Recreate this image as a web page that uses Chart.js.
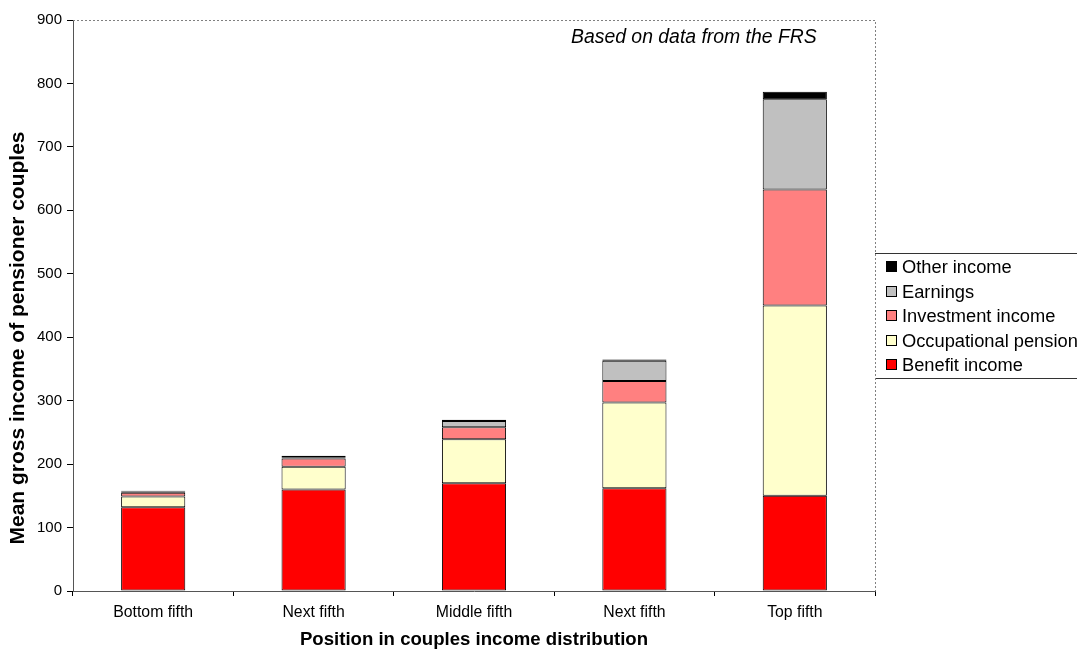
<!DOCTYPE html>
<html>
<head>
<meta charset="utf-8">
<script src="https://cdn.jsdelivr.net/npm/chart.js@4/dist/chart.umd.min.js"></script>
<style>
  body { margin: 0; background: #fff; }
  canvas { display: block; }
</style>
</head>
<body>
<canvas id="incomeChart"></canvas>
<script>
const fifths = ['Bottom fifth', 'Next fifth', 'Middle fifth', 'Next fifth', 'Top fifth'];

// mean gross income by source, stacked bottom to top
const benefitIncome = [132, 160, 170, 162, 150];
const occupationalPension = [17, 36, 69, 135, 300];
const investmentIncome = [6, 13, 19, 34, 183];
const earnings = [2, 2, 10, 32, 142];
const otherIncome = [1, 2, 2, 2, 12];

const FONT = '"Liberation Sans", Arial, sans-serif';

// boxed legend, top series first (left edge sits on the plot frame)
const boxLegend = {
  id: 'boxLegend',
  afterDraw(chart) {
    const { ctx, chartArea: a } = chart;
    const x = Math.round(a.right), y = 253, w = 220, h = 125;
    ctx.save();
    ctx.fillStyle = '#fff';
    ctx.fillRect(x, y, w, h);
    ctx.strokeStyle = '#333';
    ctx.lineWidth = 1;
    ctx.beginPath();
    ctx.moveTo(x, y + 0.5);
    ctx.lineTo(x + w, y + 0.5);
    ctx.moveTo(x, y + h + 0.5);
    ctx.lineTo(x + w, y + h + 0.5);
    ctx.stroke();

    ctx.font = '18.3px ' + FONT;
    ctx.textBaseline = 'middle';
    const items = chart.data.datasets.slice().reverse();
    items.forEach((ds, i) => {
      const cy = Math.round(y + 14 + i * 24.5);
      ctx.fillStyle = ds.backgroundColor;
      ctx.fillRect(886, cy - 6, 11, 11);
      ctx.strokeStyle = '#000';
      ctx.strokeRect(886.5, cy - 5.5, 10, 10);
      ctx.fillStyle = '#000';
      ctx.fillText(ds.label, 902, cy + 1);
    });
    ctx.restore();
  }
};

// dotted frame on the top and right of the plot area, y title and source note
const frameAndNote = {
  id: 'frameAndNote',
  afterDraw(chart) {
    const { ctx, chartArea: a } = chart;
    ctx.save();
    ctx.strokeStyle = '#808080';
    ctx.lineWidth = 1;
    ctx.setLineDash([2, 2]);
    ctx.beginPath();
    ctx.moveTo(a.left, a.top + 0.5);
    ctx.lineTo(a.right + 0.5, a.top + 0.5);
    ctx.lineTo(a.right + 0.5, a.bottom);
    ctx.stroke();
    ctx.setLineDash([]);

    ctx.fillStyle = '#000';
    ctx.font = 'italic 19.4px ' + FONT;
    ctx.textBaseline = 'middle';
    ctx.textAlign = 'left';
    ctx.fillText('Based on data from the FRS', 571, 38);

    ctx.translate(18, 338);
    ctx.rotate(-Math.PI / 2);
    ctx.font = 'bold 21px ' + FONT;
    ctx.textAlign = 'center';
    ctx.fillText('Mean gross income of pensioner couples', 0, 0);
    ctx.restore();
  }
};

const canvas = document.getElementById('incomeChart');
canvas.width = 1077;
canvas.height = 651;

const ctx = canvas.getContext('2d');
new Chart(ctx, {
  type: 'bar',
  data: {
    labels: fifths,
    datasets: [
      { label: 'Benefit income', data: benefitIncome, backgroundColor: '#FF0000' },
      { label: 'Occupational pension', data: occupationalPension, backgroundColor: '#FFFFCC' },
      { label: 'Investment income', data: investmentIncome, backgroundColor: '#FF8080' },
      { label: 'Earnings', data: earnings, backgroundColor: '#C0C0C0' },
      { label: 'Other income', data: otherIncome, backgroundColor: '#000000' }
    ].map(ds => Object.assign(ds, {
      borderColor: '#000',
      borderWidth: 1,
      borderSkipped: false,
      barPercentage: 0.4,
      categoryPercentage: 1
    }))
  },
  options: {
    responsive: false,
    animation: false,
    devicePixelRatio: 1,
    layout: { padding: { left: 0, top: 20, right: 202, bottom: 0 } },
    plugins: {
      legend: { display: false },
      tooltip: { enabled: false }
    },
    scales: {
      x: {
        stacked: true,
        afterFit: scale => { scale.height = 60; },
        grid: {
          offset: true,
          drawOnChartArea: false,
          tickLength: 5,
          color: '#000'
        },
        border: { color: '#555', dash: [3, 2] },
        ticks: { color: '#000', padding: 7, font: { family: FONT, size: 15.8 } },
        title: {
          display: true,
          text: 'Position in couples income distribution',
          color: '#000',
          padding: { top: 0, bottom: 0 },
          font: { family: FONT, size: 18.6, weight: 'bold' }
        }
      },
      y: {
        stacked: true,
        min: 0,
        max: 900,
        afterFit: scale => { scale.width = 73; },
        grid: {
          drawOnChartArea: false,
          tickLength: 6,
          color: '#000'
        },
        border: { color: '#555', dash: [3, 2] },
        ticks: { stepSize: 100, color: '#000', padding: 5, font: { family: FONT, size: 15 } }
      }
    }
  },
  plugins: [boxLegend, frameAndNote]
});
</script>
</body>
</html>
